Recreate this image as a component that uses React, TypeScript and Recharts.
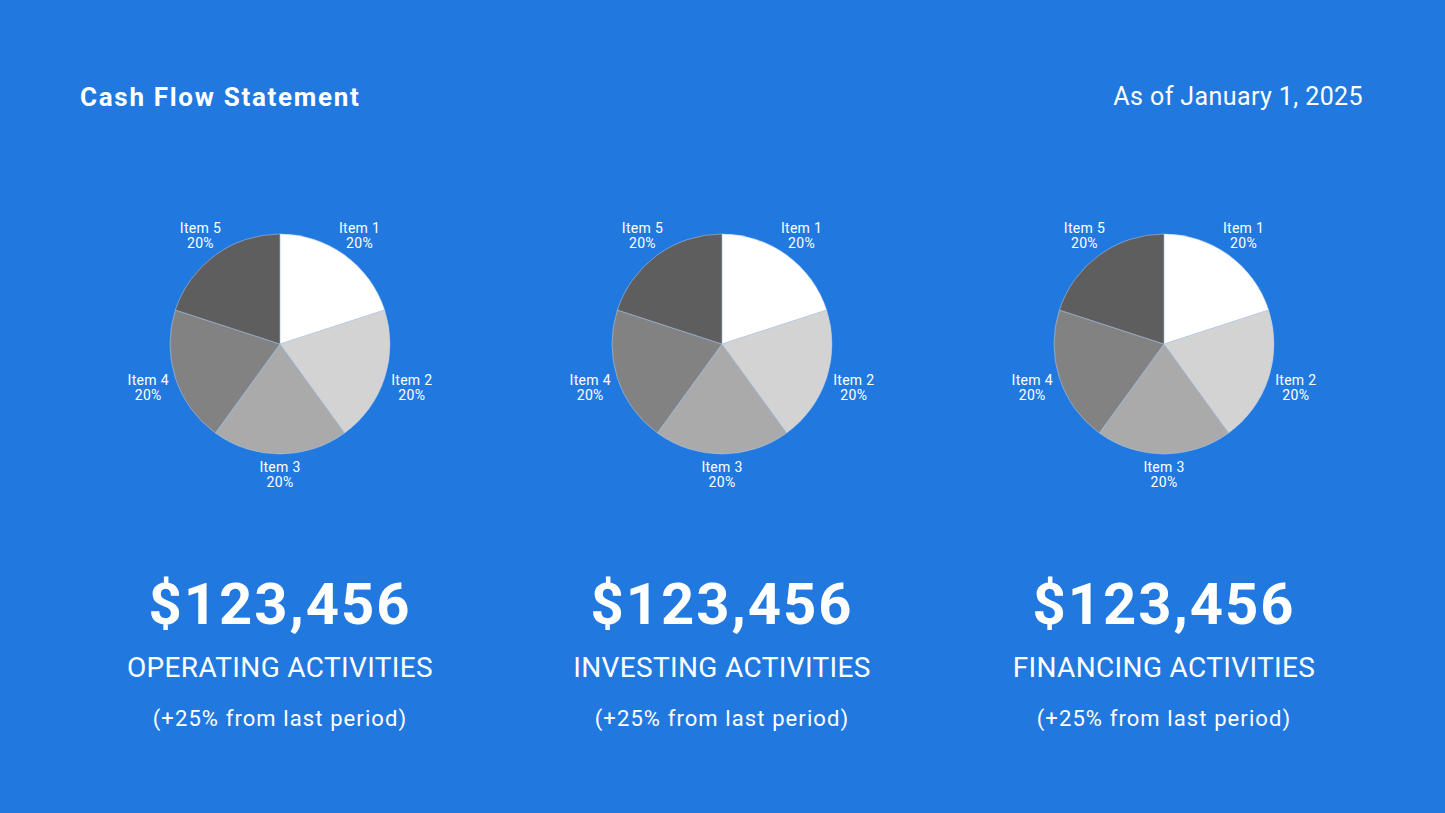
import { PieChart, Pie, Cell } from 'recharts';

// Breakdown shared by the three activity pies
const items = ['Item 1', 'Item 2', 'Item 3', 'Item 4', 'Item 5'];
const operatingValues = [20, 20, 20, 20, 20];
const investingValues = [20, 20, 20, 20, 20];
const financingValues = [20, 20, 20, 20, 20];

// Summary figures under each pie
const activityNames = ['OPERATING ACTIVITIES', 'INVESTING ACTIVITIES', 'FINANCING ACTIVITIES'];
const activityAmounts = ['$123,456', '$123,456', '$123,456'];
const activityChanges = ['(+25% from last period)', '(+25% from last period)', '(+25% from last period)'];

const sliceColors = ['#ffffff', '#d3d3d3', '#aaaaaa', '#828282', '#5e5e5e'];

const BG = '#2179e0';
const FONT = 'Roboto, "Open Sans", sans-serif';
const WIDTH = 1445;
const HEIGHT = 813;
const COL_LEFT = 59;
const COL_WIDTH = 442;
const PIE_CY = 344;
const PIE_R = 110;

const RAD = Math.PI / 180;

const toRows = (values: number[]) => items.map((name, i) => ({ name, value: values[i] }));
const pies = [toRows(operatingValues), toRows(investingValues), toRows(financingValues)];

function SliceLabel(props: any) {
  const { cx, cy, midAngle, outerRadius, percent, name } = props;
  const a = -midAngle * RAD;
  const r = outerRadius + 20 + 9 * Math.abs(Math.cos(a));
  const x = cx + r * Math.cos(a);
  const y = cy + r * Math.sin(a);
  return (
    <text x={x} y={y} fill="#ffffff" fontSize={14} fontFamily={FONT} textAnchor="middle" letterSpacing={0.3}>
      <tspan x={x} dy={-2}>{name}</tspan>
      <tspan x={x} dy={15}>{`${Math.round(percent * 100)}%`}</tspan>
    </text>
  );
}

export default function App() {
  return (
    <div
      style={{
        position: 'fixed',
        left: 0,
        top: 0,
        width: WIDTH,
        height: HEIGHT,
        background: BG,
        fontFamily: FONT,
        color: '#ffffff',
        overflow: 'hidden',
      }}
    >
      <div style={{ position: 'absolute', left: 80, top: 82, fontSize: 26, fontWeight: 700, letterSpacing: 1.7 }}>
        Cash Flow Statement
      </div>
      <div style={{ position: 'absolute', right: 82, top: 82, fontSize: 25, letterSpacing: 0.4 }}>
        As of January 1, 2025
      </div>

      <div style={{ position: 'absolute', left: 0, top: 0 }}>
        <PieChart width={WIDTH} height={560} margin={{ top: 0, right: 0, bottom: 0, left: 0 }}>
          {pies.map((rows, p) => (
            <Pie
              key={p}
              data={rows}
              dataKey="value"
              nameKey="name"
              cx={COL_LEFT + COL_WIDTH * p + COL_WIDTH / 2}
              cy={PIE_CY}
              outerRadius={PIE_R}
              startAngle={90}
              endAngle={-270}
              stroke="#b7cfee"
              strokeWidth={0.5}
              label={SliceLabel}
              labelLine={false}
              isAnimationActive={false}
            >
              {rows.map((row, i) => (
                <Cell key={row.name} fill={sliceColors[i]} />
              ))}
            </Pie>
          ))}
        </PieChart>
      </div>

      {activityNames.map((name, i) => (
        <div
          key={name}
          style={{
            position: 'absolute',
            left: COL_LEFT + COL_WIDTH * i,
            width: COL_WIDTH,
            top: 568,
            textAlign: 'center',
          }}
        >
          <div style={{ fontSize: 58, fontWeight: 700, lineHeight: '72px', letterSpacing: 2 }}>
            {activityAmounts[i]}
          </div>
          <div style={{ fontSize: 28, lineHeight: '40px', marginTop: 8, letterSpacing: 0.35 }}>{name}</div>
          <div style={{ fontSize: 22, lineHeight: '30px', marginTop: 16, letterSpacing: 1.1 }}>
            {activityChanges[i]}
          </div>
        </div>
      ))}
    </div>
  );
}
